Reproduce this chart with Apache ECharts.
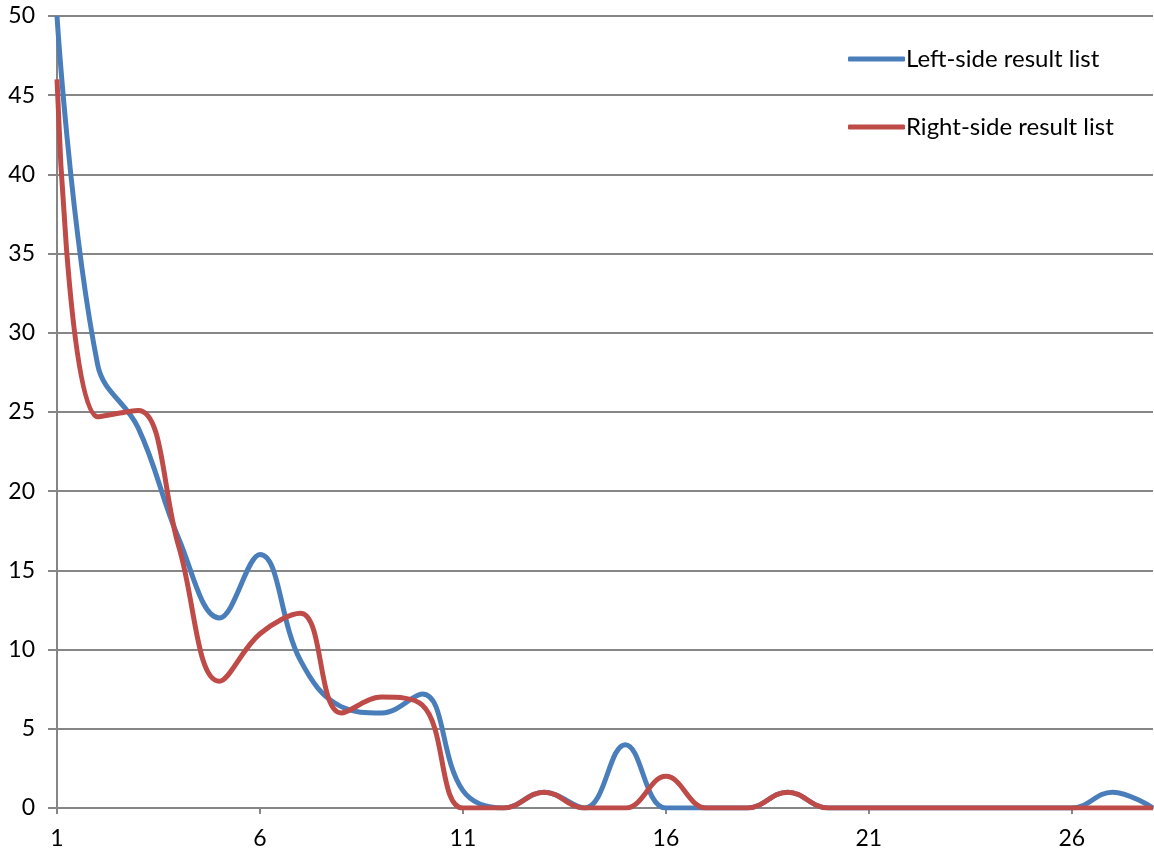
<!DOCTYPE html>
<html>
<head>
<meta charset="utf-8">
<script src="https://cdn.jsdelivr.net/npm/echarts@6/dist/echarts.min.js"></script>
<style>html,body{margin:0;padding:0;background:#fff}#c{width:1154px;height:855px}</style>
</head>
<body>
<div id="c"></div>
<script>
const categories = ['1','2','3','4','5','6','7','8','9','10','11','12','13','14','15','16','17','18','19','20','21','22','23','24','25','26','27','28'];
const leftSide  = [50, 28, 24, 17, 12, 16, 9.3, 6.4, 6, 7.2, 1.1, 0, 1, 0, 4, 0, 0, 0, 1, 0, 0, 0, 0, 0, 0, 0, 1, 0];
const rightSide = [46, 24.7, 25.1, 16.5, 8, 11, 12.3, 6, 7, 6.5, 0, 0, 1, 0, 0, 2, 0, 0, 1, 0, 0, 0, 0, 0, 0, 0, 0, 0];
const seriesNames = ['Left-side result list', 'Right-side result list'];
const yMin = 0, yMax = 50, yStep = 5;

const font = 'Lato, Open Sans, sans-serif';
const chart = echarts.init(document.getElementById('c'));
chart.setOption({
  animation: false,
  grid: { left: 57, right: 1, top: 16, bottom: 47, containLabel: false },
  legend: {
    orient: 'vertical', left: 843, top: 42, itemGap: 44,
    icon: 'roundRect', itemWidth: 57, itemHeight: 5,
    textStyle: { fontFamily: font, fontSize: 24, color: '#000', padding: [0, 0, 0, -4] },
    data: seriesNames
  },
  xAxis: {
    type: 'category', data: categories, boundaryGap: false,
    axisLine: { lineStyle: { color: '#868686', width: 2 } },
    axisTick: { interval: 4, length: 6, lineStyle: { color: '#868686', width: 2 } },
    axisLabel: { interval: 4, fontFamily: font, fontSize: 23, color: '#000', margin: 19 },
    splitLine: { show: false }
  },
  yAxis: {
    type: 'value', min: yMin, max: yMax, interval: yStep,
    axisLine: { show: true, lineStyle: { color: '#868686', width: 2 } },
    axisTick: { show: true, length: 9, lineStyle: { color: '#868686', width: 2 } },
    axisLabel: { fontFamily: font, fontSize: 23, color: '#000', margin: 22 },
    splitLine: { lineStyle: { color: '#868686', width: 2 } }
  },
  series: [
    { name: seriesNames[0], type: 'line', data: leftSide, smooth: 0.4, showSymbol: false, symbol: 'none',
      color: '#4A7EBB', lineStyle: { width: 5, color: '#4A7EBB' } },
    { name: seriesNames[1], type: 'line', data: rightSide, smooth: 0.4, showSymbol: false, symbol: 'none',
      color: '#BE4B48', lineStyle: { width: 5, color: '#BE4B48' } }
  ]
});
</script>
</body>
</html>
